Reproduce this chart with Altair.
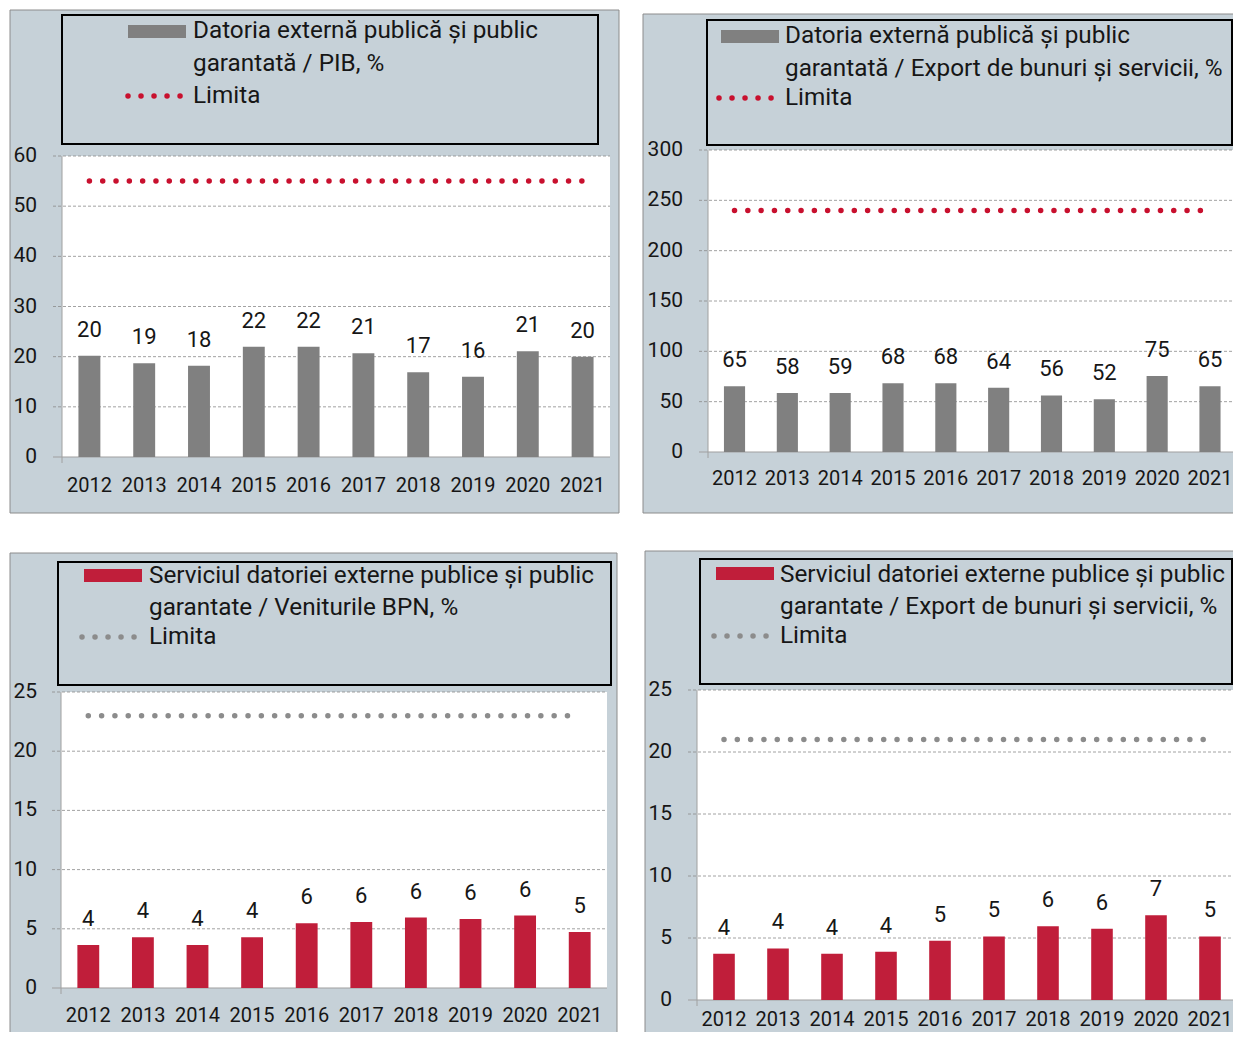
import altair as alt
import pandas as pd

# ---------------- data ----------------
years = ["2012", "2013", "2014", "2015", "2016", "2017", "2018", "2019", "2020", "2021"]

p1_values = [20.2, 18.7, 18.2, 22.0, 22.0, 20.7, 16.9, 16.0, 21.1, 20.0]
p1_labels = [20, 19, 18, 22, 22, 21, 17, 16, 21, 20]
p1_limit = 55

p2_values = [65.3, 58.5, 58.7, 68.4, 68.4, 63.8, 56.2, 52.4, 75.5, 65.3]
p2_labels = [65, 58, 59, 68, 68, 64, 56, 52, 75, 65]
p2_limit = 240

p3_values = [3.64, 4.28, 3.64, 4.28, 5.47, 5.58, 5.95, 5.83, 6.12, 4.73]
p3_labels = [4, 4, 4, 4, 6, 6, 6, 6, 6, 5]
p3_limit = 23

p4_values = [3.73, 4.16, 3.73, 3.89, 4.78, 5.13, 5.94, 5.75, 6.83, 5.13]
p4_labels = [4, 4, 4, 4, 5, 5, 6, 6, 7, 5]
p4_limit = 21

p1_ticks = [0, 10, 20, 30, 40, 50, 60]
p2_ticks = [0, 50, 100, 150, 200, 250, 300]
p34_ticks = [0, 5, 10, 15, 20, 25]

p1_legend = ["Datoria externă publică și public", "garantată / PIB, %"]
p2_legend = ["Datoria externă publică și public", "garantată / Export de bunuri și servicii, %"]
p3_legend = ["Serviciul datoriei externe publice și public", "garantate / Veniturile BPN, %"]
p4_legend = ["Serviciul datoriei externe publice și public", "garantate / Export de bunuri și servicii, %"]
limit_text = "Limita"

# ---------------- style ----------------
FONT = "Roboto"
TXT = "#161616"
BG = "#c6d1d8"
BORDER = "#8c8c8c"
GRID = "#8a8a8a"
AXIS = "#a0a0a0"
GRAY_BAR = "#808080"
RED_BAR = "#c01e3a"
RED_DOT = "#c8102e"
GRAY_DOT = "#8c8c8c"

W, H = 1225, 1024      # whole drawing (page minus the 8px margins)
OFF = 8                # page margin: geometry below is given in page pixels
RIGHT = OFF + W        # right edge of the drawing in page pixels
BOT = OFF + H          # bottom of the drawing in page pixels

one = alt.Data(values=[{"k": 1}])


def P(v):
    return v - OFF


def px_rect(x, x2, y, y2, **kw):
    return alt.Chart(one).mark_rect(**kw).encode(
        x=alt.value(P(x)), x2=alt.value(P(x2)), y=alt.value(P(y)), y2=alt.value(P(y2)))


def px_hrule(x, x2, y, **kw):
    return alt.Chart(one).mark_rule(**kw).encode(
        x=alt.value(P(x)), x2=alt.value(P(x2)), y=alt.value(P(y)))


def px_vrule(x, y, y2, **kw):
    return alt.Chart(one).mark_rule(**kw).encode(
        x=alt.value(P(x)), y=alt.value(P(y)), y2=alt.value(P(y2)))


def px_text(x, y, s, size=24.3):
    return alt.Chart(one).mark_text(
        align="left", baseline="middle", font=FONT, fontSize=size, color=TXT
    ).encode(x=alt.value(P(x)), y=alt.value(P(y)), text=alt.value(s))


def panel(values, labels, limit, ticks, bar_color, dot_color, legend_lines, g):
    df = pd.DataFrame({
        "year": years,
        "value": values,
        "label": [str(v) for v in labels],
        "limit": [limit] * len(years),
    })
    ysc = alt.Scale(domain=[0, ticks[-1]], range=[P(g["y0"]), P(g["ytop"])],
                    nice=False, zero=False)
    xsc = alt.Scale(domain=years, range=[P(g["xr0"]), P(g["xr1"])],
                    paddingInner=0.6, paddingOuter=0.3)
    X = alt.X("year:N", scale=xsc, axis=None)

    def Y(field):
        return alt.Y(field, scale=ysc, axis=None)

    layers = []
    # panel background and border
    layers.append(px_rect(g["bx"], g["bx2"], g["by"], g["by2"], color=BG))
    layers.append(px_vrule(g["bx"], g["by"], g["by2"], color=BORDER, strokeWidth=1))
    layers.append(px_hrule(g["bx"], g["bx2"], g["by"], color=BORDER, strokeWidth=1))
    if g.get("right"):
        layers.append(px_vrule(g["bx2"], g["by"], g["by2"], color=BORDER, strokeWidth=1))
    if g.get("bottom"):
        layers.append(px_hrule(g["bx"], g["bx2"], g["by2"], color=BORDER, strokeWidth=1))

    # white plot area
    plot_df = pd.DataFrame({"top": [ticks[-1]], "bot": [0]})
    layers.append(alt.Chart(plot_df).mark_rect(color="white").encode(
        x=alt.value(P(g["ax"])), x2=alt.value(P(g["pr"])),
        y=Y("top:Q"), y2="bot:Q"))

    # dashed gridlines
    grid_df = pd.DataFrame({"t": ticks[1:]})
    layers.append(alt.Chart(grid_df).mark_rule(
        color=GRID, strokeWidth=0.8, strokeDash=[3, 2]).encode(
        x=alt.value(P(g["ax"] - 9)), x2=alt.value(P(g["pr"])), y=Y("t:Q")))

    # axis lines
    layers.append(alt.Chart(plot_df).mark_rule(color=AXIS, strokeWidth=1).encode(
        x=alt.value(P(g["ax"])), y=Y("top:Q"), y2=alt.value(P(g["y0"] + 6))))
    layers.append(alt.Chart(plot_df).mark_rule(color=AXIS, strokeWidth=1.2).encode(
        x=alt.value(P(g["ax"] - 9)), x2=alt.value(P(g["pr"])), y=Y("bot:Q")))

    # y tick labels
    tick_df = pd.DataFrame({"t": ticks, "s": [str(t) for t in ticks]})
    layers.append(alt.Chart(tick_df).mark_text(
        align="right", baseline="middle", font=FONT, fontSize=21, color=TXT).encode(
        x=alt.value(P(g["ylx"])), y=Y("t:Q"), text="s:N"))

    # x tick labels
    layers.append(alt.Chart(df).mark_text(
        align="center", baseline="middle", font=FONT, fontSize=20, color=TXT).encode(
        x=X, y=alt.value(P(g["xly"])), text="year:N"))

    # limit line (dotted)
    layers.append(alt.Chart(df).mark_line(
        color=dot_color, strokeWidth=5.5, strokeDash=[0.01, 13.3], strokeCap="round").encode(
        x=X, y=Y("limit:Q")))

    # bars
    layers.append(alt.Chart(df).mark_bar(color=bar_color).encode(x=X, y=Y("value:Q")))

    # data labels
    layers.append(alt.Chart(df).mark_text(
        baseline="middle", dy=-26, font=FONT, fontSize=22, color=TXT).encode(
        x=X, y=Y("value:Q"), text="label:N"))

    # legend
    layers.append(px_rect(g["lx"], g["lx2"], g["ly"], g["ly2"],
                          fillOpacity=0, stroke="black", strokeWidth=2))
    layers.append(px_rect(g["sx"], g["sx"] + 58, g["sy"], g["sy"] + 13, color=bar_color))
    layers.append(px_hrule(g["dx"], g["dx"] + 53, g["t3"], color=dot_color,
                           strokeWidth=5.5, strokeDash=[0.01, 13], strokeCap="round"))
    layers.append(px_text(g["tx"], g["t1"], legend_lines[0]))
    layers.append(px_text(g["tx"], g["t2"], legend_lines[1]))
    layers.append(px_text(g["tx"], g["t3"], limit_text))
    return layers


# geometry in page pixels
g1 = dict(bx=10, bx2=619, by=10, by2=513, right=True, bottom=True,
          lx=62, lx2=598, ly=15, ly2=144, sx=128, sy=25, dx=128,
          tx=193, t1=31, t2=64, t3=96,
          ax=62, pr=610, y0=457, ytop=156, xr0=62, xr1=610, xly=486, ylx=37)
# right-hand panels: band range chosen so that the last label ends inside the page
g2 = dict(bx=643, bx2=RIGHT, by=14, by2=513, right=False, bottom=True,
          lx=707, lx2=RIGHT - 1, ly=20, ly2=145, sx=721, sy=30, dx=719,
          tx=785, t1=36, t2=69, t3=98,
          ax=708, pr=RIGHT, y0=452, ytop=150, xr0=708.1, xr1=1236.4, xly=479, ylx=683)
g3 = dict(bx=10, bx2=617, by=553, by2=BOT, right=True, bottom=False,
          lx=58, lx2=611, ly=562, ly2=685, sx=84, sy=569, dx=82,
          tx=149, t1=576, t2=608, t3=637,
          ax=61, pr=607, y0=988, ytop=692, xr0=61, xr1=607, xly=1016, ylx=37)
g4 = dict(bx=645, bx2=RIGHT, by=551, by2=BOT, right=False, bottom=False,
          lx=700, lx2=RIGHT - 1, ly=559, ly2=684, sx=716, sy=567, dx=714,
          tx=780, t1=575, t2=607, t3=636,
          ax=697, pr=RIGHT, y0=1000, ytop=690, xr0=697, xr1=1237, xly=1020, ylx=672)

layers = []
layers += panel(p1_values, p1_labels, p1_limit, p1_ticks, GRAY_BAR, RED_DOT, p1_legend, g1)
layers += panel(p2_values, p2_labels, p2_limit, p2_ticks, GRAY_BAR, RED_DOT, p2_legend, g2)
layers += panel(p3_values, p3_labels, p3_limit, p34_ticks, RED_BAR, GRAY_DOT, p3_legend, g3)
layers += panel(p4_values, p4_labels, p4_limit, p34_ticks, RED_BAR, GRAY_DOT, p4_legend, g4)

chart = alt.layer(*layers).resolve_scale(
    x="independent", y="independent"
).properties(
    width=W, height=H,
    autosize=alt.AutoSizeParams(type="none"),
    padding=0,
    background="white",
).configure_view(stroke=None)

chart.save("out.html", embed_options={"renderer": "svg", "actions": False})
